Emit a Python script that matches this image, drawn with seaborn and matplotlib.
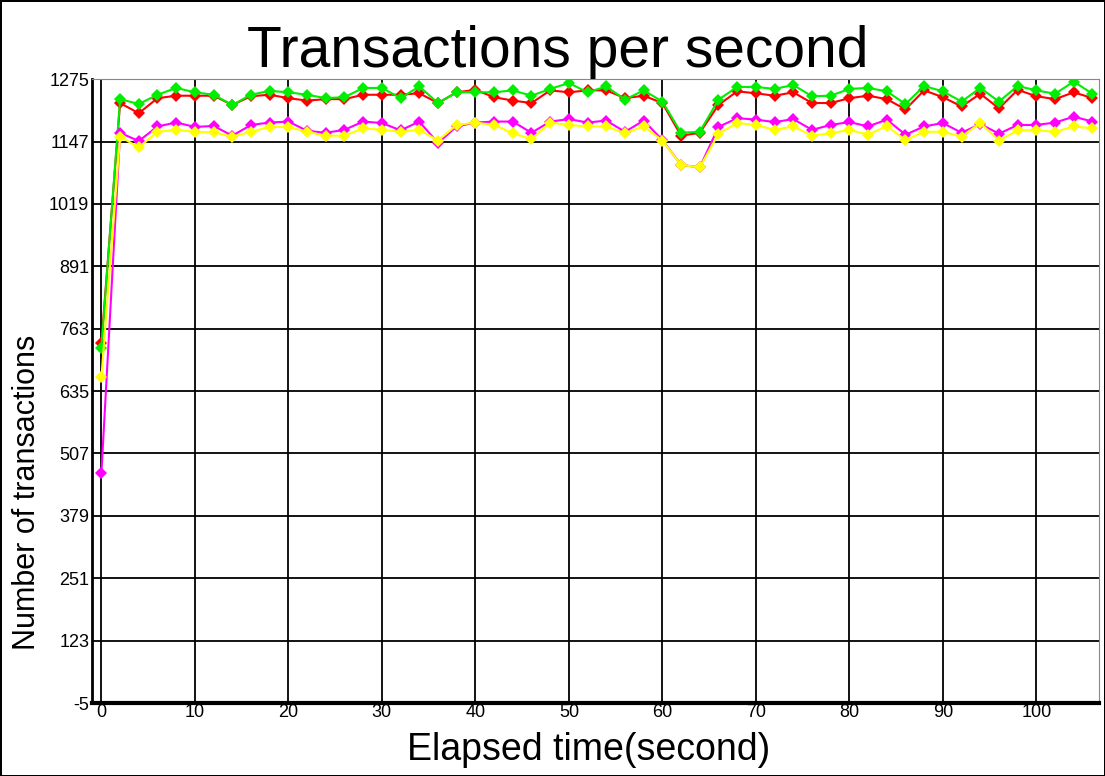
import numpy as np
import pandas as pd
import seaborn as sns
import matplotlib.pyplot as plt

# elapsed time, one sample every 2 seconds
seconds = list(range(0, 107, 2))

red = [733, 1226, 1205, 1236, 1241, 1241, 1241, 1222, 1240, 1243, 1236, 1231, 1234, 1234,
       1243, 1243, 1243, 1246, 1226, 1248, 1253, 1238, 1231, 1226, 1252, 1248, 1252,
       1252, 1236, 1241, 1226, 1159, 1165, 1222, 1250, 1246, 1241, 1248, 1226, 1226,
       1236, 1241, 1234, 1213, 1252, 1238, 1219, 1245, 1215, 1253, 1240, 1234, 1248, 1236]
green = [724, 1234, 1224, 1243, 1257, 1248, 1243, 1222, 1243, 1251, 1248, 1243, 1236, 1238,
         1257, 1257, 1236, 1260, 1226, 1248, 1248, 1248, 1252, 1241, 1255, 1267, 1248,
         1260, 1233, 1252, 1229, 1165, 1167, 1233, 1259, 1259, 1255, 1263, 1240, 1241,
         1255, 1257, 1250, 1224, 1261, 1250, 1229, 1257, 1229, 1261, 1252, 1245, 1270, 1245]
magenta = [467, 1165, 1148, 1178, 1186, 1177, 1179, 1159, 1181, 1186, 1188, 1169, 1165, 1171,
           1188, 1185, 1170, 1188, 1144, 1178, 1186, 1188, 1188, 1165, 1188, 1193, 1186,
           1190, 1167, 1190, 1150, 1099, 1094, 1177, 1195, 1192, 1187, 1193, 1171, 1181,
           1187, 1178, 1192, 1161, 1178, 1185, 1165, 1183, 1163, 1181, 1181, 1186, 1198, 1188]
yellow = [663, 1157, 1135, 1167, 1171, 1167, 1166, 1157, 1167, 1177, 1177, 1167, 1159, 1159,
          1174, 1171, 1167, 1171, 1149, 1181, 1186, 1181, 1164, 1152, 1186, 1181, 1178,
          1178, 1164, 1178, 1149, 1099, 1094, 1163, 1185, 1181, 1171, 1178, 1159, 1164,
          1171, 1161, 1179, 1150, 1167, 1167, 1157, 1185, 1149, 1170, 1170, 1167, 1178, 1174]

series = {"red": red, "green": green, "magenta": magenta, "yellow": yellow}
colors = {"red": "#ff0000", "green": "#00ee00", "magenta": "#ff00ff", "yellow": "#ffff00"}

df = pd.DataFrame([{"t": t, "n": v, "run": name}
                   for name, vals in series.items() for t, v in zip(seconds, vals)])

sns.set_style("white")
plt.rcParams["font.family"] = ["Liberation Sans", "DejaVu Sans"]
plt.rcParams["text.color"] = "black"
plt.rcParams["xtick.color"] = "black"
plt.rcParams["ytick.color"] = "black"
plt.rcParams["axes.unicode_minus"] = False

fig = plt.figure(figsize=(11.05, 7.76), dpi=100, edgecolor="black", linewidth=2)
ax = fig.add_axes([0.0833, 0.094, 0.9113, 0.804])

sns.lineplot(data=df, x="t", y="n", hue="run", palette=colors, marker="D",
             markersize=6, markeredgewidth=0, linewidth=1.5, legend=False, ax=ax)

ax.set_xlim(-1, 106.7)
ax.set_ylim(-5, 1275)
ax.set_xticks(range(0, 101, 10))
ax.set_yticks(np.arange(-5, 1276, 128))
ax.grid(True, color="black", linewidth=1.3)
ax.set_axisbelow(True)
ax.tick_params(axis="both", labelsize=13, length=0, pad=2)
ax.tick_params(axis="x", pad=1)
ax.spines["left"].set_linewidth(2)
ax.spines["bottom"].set_linewidth(3)
ax.spines["left"].set_color("black")
ax.spines["bottom"].set_color("black")
ax.spines["top"].set_color("#888888")
ax.spines["right"].set_color("#888888")
ax.set_xlabel("")
ax.set_ylabel("")

fig.text(0.505, 0.914, "Transactions per second", ha="center", va="baseline",
         fontsize=41)
fig.text(0.533, 0.021, "Elapsed time(second)", ha="center", va="baseline",
         fontsize=27)
fig.text(0.0317, 0.365, "Number of transactions", ha="center", va="baseline",
         rotation=90, fontsize=22, rotation_mode="anchor")

fig.savefig("out.png", dpi=100)
